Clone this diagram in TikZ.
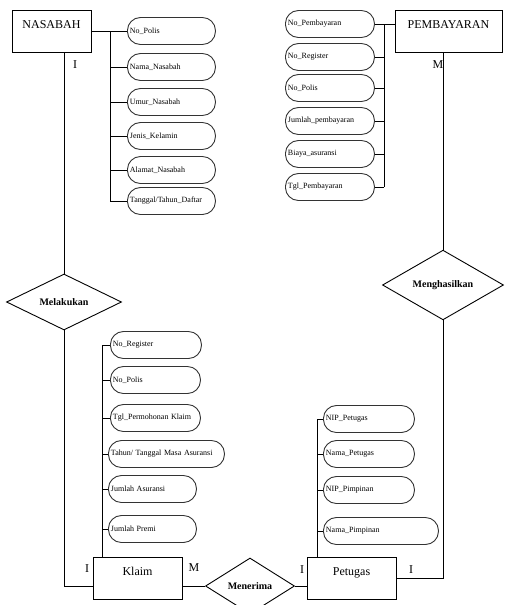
\documentclass[tikz,border=0pt]{standalone}
\usepackage{fontspec}
\setmainfont{Liberation Serif}
\usetikzlibrary{shapes}
\tikzstyle{entity}=[draw,line width=0.8pt,inner ysep=4pt,text height=14pt,text depth=20pt,font=\fontsize{12}{14}\selectfont]
\tikzstyle{attribute}=[draw=black!80,line width=0.9pt,rounded corners=13pt,minimum height=27pt,inner xsep=2.5pt,anchor=west,align=left,font=\fontsize{8}{9}\selectfont]
\tikzstyle{relation}=[draw,diamond,line width=0.9pt,inner sep=0pt,font=\bfseries\fontsize{10}{12}\selectfont]
\tikzstyle{card}=[font=\fontsize{12}{14}\selectfont]
\tikzstyle{edge} = [draw,line width=0.8pt,-]

\begin{document}
\begin{tikzpicture}[x=1pt,y=-1pt]
    \useasboundingbox (0,0) rectangle (504,605);
    % First we draw the entities
    \node[entity,minimum width=79pt] (nasabah) at (51.5,31) {NASABAH};
    \node[entity,minimum width=107pt] (pembayaran) at (448.5,31) {PEMBAYARAN};
    \node[entity,minimum width=89pt] (klaim) at (137.5,578) {Klaim};
    \node[entity,minimum width=89pt] (petugas) at (351.5,578.5) {Petugas};
    % Relations
    \node[relation,minimum width=115pt,minimum height=54pt] (melakukan) at (64,302) {Melakukan};
    \node[relation,minimum width=89pt,minimum height=56pt] (menerima) at (250,586) {Menerima};
    \node[relation,minimum width=121pt,minimum height=55pt] (menghasilkan) at (443,285) {Menghasilkan};
    % Attributes
    \foreach \x/\y/\w/\name/\txt in {127/31/83/n1/{No\_Polis}, 127/67/83/n2/{Nama\_Nasabah},
        127/102/83/n3/{Umur\_Nasabah}, 127/136/83/n4/{Jenis\_Kelamin},
        127/170/83/n5/{Alamat\_Nasabah}, 127/201/83/n6/{Tanggal/Tahun\_Daftar},
        285/24/84/p1/{No\_Pembayaran}, 285/57/84/p2/{No\_Register}, 285/88/84/p3/{No\_Polis},
        285/121/84/p4/{Jumlah\_pembayaran}, 285/154/84/p5/{Biaya\_asuransi},
        285/187/84/p6/{Tgl\_Pembayaran},
        110/345/86/k1/{No\_Register}, 110/380/85/k2/{No\_Polis},
        110/418/85/k3/{Tgl\_Permohonan Klaim}, 108/454/111/k4/{Tahun/ Tanggal Masa Asuransi},
        108/489/83/k5/{Jumlah Asuransi}, 108/529/83/k6/{Jumlah Premi},
        323/419/86/t1/{NIP\_Petugas}, 323/454/86/t2/{Nama\_Petugas},
        323/490/86/t3/{NIP\_Pimpinan}, 323/531/110/t4/{Nama\_Pimpinan}}
        \node[attribute,text width=\w pt] (\name) at (\x,\y) {\txt};
    % Cardinalities
    \foreach \pos/\name/\txt in {{(75,65)/c1/I}, {(438,65)/c2/M}, {(87,569)/c3/I},
        {(194,568)/c4/M}, {(302,570)/c5/I}, {(411,570)/c6/I}}
        \node[card] (\name) at \pos {\txt};
    % Connect attributes with their entity
    \coordinate (nbus) at (110,201);
    \coordinate (pbus) at (384,187);
    \coordinate (kbus) at (102,345);
    \coordinate (tbus) at (317,419);
    \path[edge] (nasabah.east) -- (nbus |- nasabah.east) -- (nbus);
    \foreach \name in {n1,n2,n3,n4,n5,n6}
        \path[edge] (nbus |- \name.west) -- (\name.west);
    \path[edge] (p1.east) -- (p1.east -| pembayaran.west);
    \path[edge] (pbus |- p1.east) -- (pbus);
    \foreach \name in {p1,p2,p3,p4,p5,p6}
        \path[edge] (\name.east) -- (pbus |- \name.east);
    \path[edge] (kbus) -- (kbus |- klaim.north);
    \foreach \name in {k1,k2,k3,k4,k5,k6}
        \path[edge] (kbus |- \name.west) -- (\name.west);
    \path[edge] (tbus) -- (tbus |- petugas.north);
    \foreach \name in {t1,t2,t3,t4}
        \path[edge] (tbus |- \name.west) -- (\name.west);
    % Connect entities with relations
    \path[edge] (melakukan.north) -- (melakukan.north |- nasabah.south);
    \path[edge] (melakukan.south) |- (klaim.west |- menerima.west);
    \path[edge] (menerima.west) -- (menerima.west -| klaim.east);
    \path[edge] (menerima.east) -- (menerima.east -| petugas.west);
    \path[edge] (menghasilkan.north) -- (menghasilkan.north |- pembayaran.south);
    \path[edge] (menghasilkan.south) |- (petugas.east);
\end{tikzpicture}
\end{document}
